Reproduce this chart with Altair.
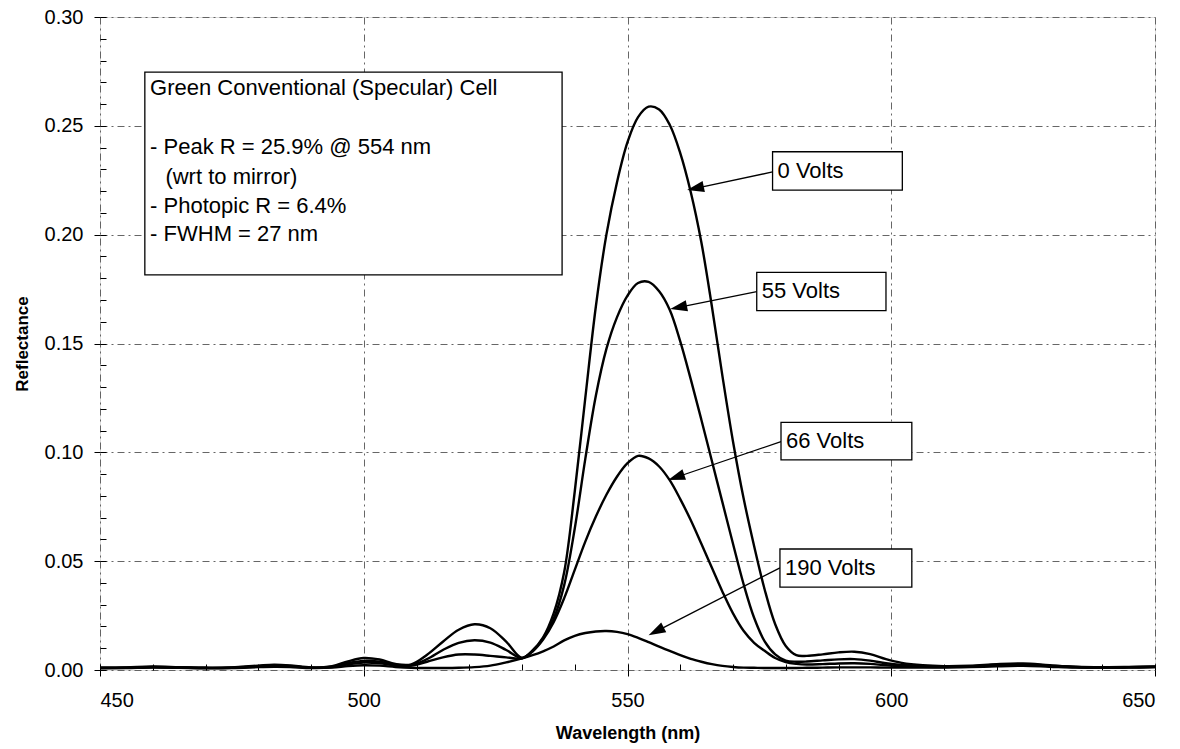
import math
import altair as alt
import pandas as pd

# ---------------- data ----------------
wavelength = [450, 455, 460, 465, 470, 475, 480, 483, 486, 490, 494, 497,
              500, 503, 506, 509, 512, 515, 518, 521, 524, 527,
              530, 532, 534, 536, 538, 540, 542, 544, 546, 548, 550, 552, 554, 556,
              558, 560, 562, 564, 566, 568, 570, 572, 574, 576, 578, 580, 582, 584,
              587, 590, 593, 596, 599, 602, 606, 610,
              615, 620, 625, 630, 635, 640, 645, 650]

r_0v = [0.0010, 0.0012, 0.0016, 0.0013, 0.0010, 0.0012, 0.0020, 0.0024, 0.0021, 0.0012, 0.0018, 0.0040,
        0.0055, 0.0048, 0.0028, 0.0026, 0.0070, 0.0130, 0.0185, 0.0210, 0.0192, 0.0130,
        0.0055, 0.0090, 0.0150, 0.0260, 0.0450, 0.0820, 0.1250, 0.1670, 0.2000, 0.2240, 0.2425, 0.2540, 0.2588, 0.2575,
        0.2505, 0.2375, 0.2195, 0.1965, 0.1670, 0.1350, 0.1050, 0.0790, 0.0570, 0.0370, 0.0210, 0.0110, 0.0068, 0.0065,
        0.0072, 0.0081, 0.0084, 0.0073, 0.0050, 0.0033, 0.0022, 0.0018,
        0.0020, 0.0027, 0.0030, 0.0022, 0.0015, 0.0013, 0.0014, 0.0016]

r_55v = [0.0010, 0.0011, 0.0014, 0.0012, 0.0010, 0.0011, 0.0018, 0.0021, 0.0019, 0.0011, 0.0015, 0.0032,
         0.0042, 0.0038, 0.0024, 0.0022, 0.0050, 0.0092, 0.0125, 0.0137, 0.0126, 0.0092,
         0.0055, 0.0088, 0.0145, 0.0235, 0.0390, 0.0650, 0.0970, 0.1260, 0.1475, 0.1620, 0.1720, 0.1778, 0.1783, 0.1740,
         0.1655, 0.1510, 0.1335, 0.1150, 0.0960, 0.0770, 0.0580, 0.0395, 0.0240, 0.0132, 0.0072, 0.0043, 0.0038, 0.0039,
         0.0044, 0.0049, 0.0050, 0.0043, 0.0031, 0.0023, 0.0018, 0.0016,
         0.0018, 0.0024, 0.0027, 0.0020, 0.0014, 0.0012, 0.0013, 0.0015]

r_66v = [0.0009, 0.0010, 0.0013, 0.0011, 0.0009, 0.0010, 0.0016, 0.0019, 0.0017, 0.0010, 0.0013, 0.0026,
         0.0034, 0.0031, 0.0021, 0.0020, 0.0038, 0.0058, 0.0071, 0.0071, 0.0065, 0.0058,
         0.0054, 0.0085, 0.0140, 0.0220, 0.0330, 0.0460, 0.0590, 0.0705, 0.0805, 0.0888, 0.0950, 0.0984, 0.0972, 0.0935,
         0.0872, 0.0785, 0.0688, 0.0580, 0.0470, 0.0360, 0.0260, 0.0180, 0.0125, 0.0088, 0.0055, 0.0036, 0.0028, 0.0025,
         0.0027, 0.0030, 0.0031, 0.0028, 0.0022, 0.0018, 0.0015, 0.0014,
         0.0016, 0.0021, 0.0024, 0.0018, 0.0013, 0.0011, 0.0012, 0.0014]

r_190v = [0.0008, 0.0009, 0.0011, 0.0010, 0.0008, 0.0009, 0.0013, 0.0015, 0.0014, 0.0009, 0.0011, 0.0018,
          0.0022, 0.0020, 0.0014, 0.0010, 0.0009, 0.0009, 0.0010, 0.0013, 0.0020, 0.0035,
          0.0053, 0.0068, 0.0086, 0.0108, 0.0136, 0.0157, 0.0170, 0.0177, 0.0179, 0.0175, 0.0165, 0.0148, 0.0128, 0.0107,
          0.0088, 0.0068, 0.0051, 0.0038, 0.0027, 0.0019, 0.0014, 0.0011, 0.0010, 0.0009, 0.0009, 0.0009, 0.0009, 0.0010,
          0.0011, 0.0012, 0.0012, 0.0012, 0.0011, 0.0011, 0.0011, 0.0011,
          0.0013, 0.0017, 0.0019, 0.0015, 0.0011, 0.0010, 0.0011, 0.0013]

series_names = ["0 Volts", "55 Volts", "66 Volts", "190 Volts"]

# axis ticks
x_major_ticks = [450, 500, 550, 600, 650]
y_major_ticks = [0.00, 0.05, 0.10, 0.15, 0.20, 0.25, 0.30]
x_minor_ticks = [450, 460, 470, 480, 490, 500, 510, 520, 530, 540, 550,
                 560, 570, 580, 590, 600, 610, 620, 630, 640, 650]
y_minor_ticks = [0.00, 0.01, 0.02, 0.03, 0.04, 0.05, 0.06, 0.07, 0.08, 0.09, 0.10,
                 0.11, 0.12, 0.13, 0.14, 0.15, 0.16, 0.17, 0.18, 0.19, 0.20,
                 0.21, 0.22, 0.23, 0.24, 0.25, 0.26, 0.27, 0.28, 0.29, 0.30]

# curve label boxes and arrows (data coordinates)
label_text = ["0 Volts", "55 Volts", "66 Volts", "190 Volts"]
label_box_x1 = [577.5, 574.5, 579.1, 578.9]
label_box_x2 = [602.1, 599.0, 603.9, 603.9]
label_box_top = [0.2381, 0.1827, 0.1138, 0.0556]
label_box_bottom = [0.2205, 0.1651, 0.0965, 0.0381]
arrow_start_y = [0.2288, 0.1738, 0.1049, 0.0469]
arrow_tip_x = [561.3, 558.1, 557.7, 554.0]
arrow_tip_y = [0.2205, 0.1658, 0.0873, 0.0160]

# info box
info_lines = ["Green Conventional (Specular) Cell",
              "- Peak R = 25.9% @ 554 nm",
              "(wrt to mirror)",
              "- Photopic R = 6.4%",
              "- FWHM = 27 nm"]
info_x = [459.5, 459.5, 462.4, 459.5, 459.5]
info_y = [0.2674, 0.2403, 0.2265, 0.2131, 0.2003]
info_box = {"x1": 458.5, "x2": 537.6, "top": 0.2747, "bottom": 0.1815}

# ---------------- build tables ----------------
W, H = 1055, 653
X_DOM = [450, 650]
Y_DOM = [0.0, 0.30]
kx = W / (X_DOM[1] - X_DOM[0])
ky = H / (Y_DOM[1] - Y_DOM[0])

rows = []
for name, vals in zip(series_names, [r_0v, r_55v, r_66v, r_190v]):
    for w, v in zip(wavelength, vals):
        rows.append({"wavelength": w, "reflectance": v, "series": name})
curves = pd.DataFrame(rows)

HEAD = 17.0
lab_rows = []
for i, t in enumerate(label_text):
    sx = (label_box_x1[i] - X_DOM[0]) * kx
    sy = (Y_DOM[1] - arrow_start_y[i]) * ky
    tx = (arrow_tip_x[i] - X_DOM[0]) * kx
    ty = (Y_DOM[1] - arrow_tip_y[i]) * ky
    dx, dy = tx - sx, ty - sy
    d = math.hypot(dx, dy)
    ux, uy = dx / d, dy / d
    cx, cy = tx - ux * HEAD / 2, ty - uy * HEAD / 2
    ang = math.degrees(math.atan2(ux, -uy)) % 360
    lab_rows.append({
        "text": t,
        "bx1": label_box_x1[i], "bx2": label_box_x2[i],
        "btop": label_box_top[i], "bbot": label_box_bottom[i],
        "bmid": (label_box_top[i] + label_box_bottom[i]) / 2,
        "sx": label_box_x1[i], "sy": arrow_start_y[i],
        "hx": X_DOM[0] + cx / kx, "hy": Y_DOM[1] - cy / ky,
        "angle": ang,
    })
labels = pd.DataFrame(lab_rows)

info = pd.DataFrame({"text": info_lines, "x": info_x, "y": info_y})
info_box_df = pd.DataFrame([info_box])

xs = alt.Scale(domain=X_DOM, nice=False, zero=False)
ys = alt.Scale(domain=Y_DOM, nice=False, zero=False)

FONT = "Liberation Sans"

main_x_axis = alt.Axis(values=x_major_ticks, title="Wavelength (nm)", grid=True,
                       gridColor="#555555", gridDash=[7, 4, 2, 4], gridWidth=0.9,
                       domain=False, tickColor="black", tickSize=6, tickWidth=1,
                       labelFont=FONT, labelFontSize=20, labelColor="black", labelPadding=14,
                       titleFont=FONT, titleFontSize=18, titleFontWeight="bold",
                       titleColor="black", titlePadding=14)
main_y_axis = alt.Axis(values=y_major_ticks, format=".2f", title="Reflectance", grid=True,
                       gridColor="#555555", gridDash=[7, 4, 2, 4], gridWidth=0.9,
                       domain=False, tickColor="black", tickSize=6, tickWidth=1,
                       labelFont=FONT, labelFontSize=20, labelColor="black", labelPadding=11,
                       titleFont=FONT, titleFontSize=17, titleFontWeight="bold",
                       titleColor="black", titlePadding=13)

lines = alt.Chart(curves).mark_line(color="black", strokeWidth=2.4, interpolate="catmull-rom").encode(
    x=alt.X("wavelength:Q", scale=xs, axis=main_x_axis),
    y=alt.Y("reflectance:Q", scale=ys, axis=main_y_axis),
    detail="series:N",
)

minor = alt.Chart(curves).mark_point(opacity=0).encode(
    x=alt.X("wavelength:Q", scale=xs,
            axis=alt.Axis(orient="bottom", values=x_minor_ticks, offset=-6, tickSize=6,
                          tickColor="black", labels=False, domain=False, grid=False, title=None)),
    y=alt.Y("reflectance:Q", scale=ys,
            axis=alt.Axis(orient="left", values=y_minor_ticks, offset=-6, tickSize=6,
                          tickColor="black", labels=False, domain=False, grid=False, title=None)),
)

info_rect = alt.Chart(info_box_df).mark_rect(fill="white", stroke="black", strokeWidth=1.3).encode(
    x=alt.X("x1:Q", scale=xs, axis=None), x2="x2:Q",
    y=alt.Y("top:Q", scale=ys, axis=None), y2="bottom:Q",
)
info_text = alt.Chart(info).mark_text(align="left", baseline="middle", font=FONT,
                                      fontSize=22, color="black").encode(
    x=alt.X("x:Q", scale=xs, axis=None),
    y=alt.Y("y:Q", scale=ys, axis=None),
    text="text:N",
)

arrows = alt.Chart(labels).mark_rule(color="black", strokeWidth=1.3).encode(
    x=alt.X("sx:Q", scale=xs, axis=None), x2="hx:Q",
    y=alt.Y("sy:Q", scale=ys, axis=None), y2="hy:Q",
)
heads = alt.Chart(labels).mark_point(shape="M0,-1L0.65,1L-0.65,1Z", size=HEAD * HEAD,
                                     filled=True, color="black", opacity=1, strokeWidth=0).encode(
    x=alt.X("hx:Q", scale=xs, axis=None),
    y=alt.Y("hy:Q", scale=ys, axis=None),
    angle=alt.Angle("angle:Q", scale=None),
)
label_rects = alt.Chart(labels).mark_rect(fill="white", stroke="black", strokeWidth=1.3).encode(
    x=alt.X("bx1:Q", scale=xs, axis=None), x2="bx2:Q",
    y=alt.Y("btop:Q", scale=ys, axis=None), y2="bbot:Q",
)
label_texts = alt.Chart(labels).mark_text(align="left", baseline="middle", dx=5, font=FONT,
                                          fontSize=22, color="black").encode(
    x=alt.X("bx1:Q", scale=xs, axis=None),
    y=alt.Y("bmid:Q", scale=ys, axis=None),
    text="text:N",
)

chart = alt.layer(
    lines, minor, info_rect, info_text, arrows, heads, label_rects, label_texts
).resolve_axis(
    x="independent", y="independent"
).properties(
    width=W, height=H,
    autosize=alt.AutoSizeParams(type="none"),
    padding={"left": 100, "top": 17, "right": 25, "bottom": 79},
    background="white",
).configure_view(
    stroke="black", strokeWidth=1.5
).configure(font=FONT)

chart.save("out.html", embed_options={"renderer": "svg", "actions": False})
